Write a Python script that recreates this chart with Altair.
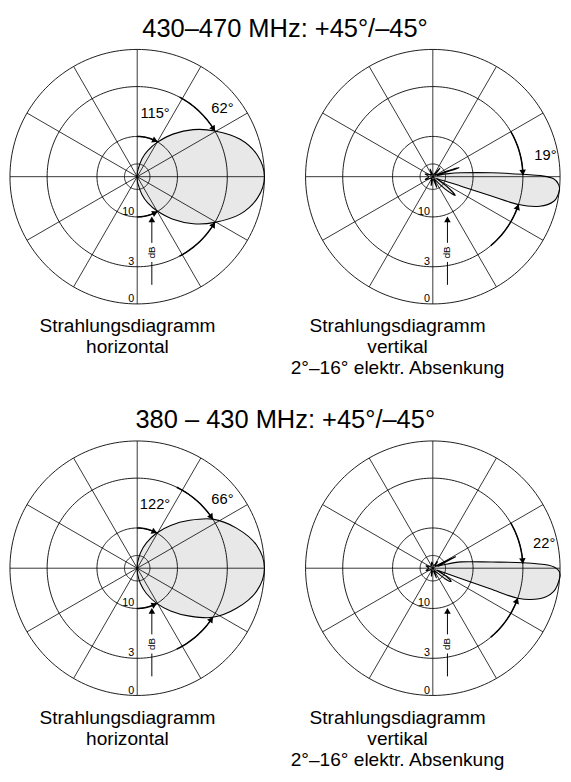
import altair as alt
import numpy as np
import pandas as pd

FONT = "Liberation Sans"
PANEL = 260          # plot size of one polar diagram (px)
LOBE_FILL = "#e8e8e8"

# ---------------- data ----------------
grid_db = [0, 3, 10, 20]          # circles of the polar grid (dB)
axis_label_db = [0, 3, 10]        # labelled circles
spoke_deg = [0, 30, 60, 90, 120, 150, 180, 210, 240, 270, 300, 330]

# horizontal pattern 430-470 MHz (angle deg CCW from boresight, attenuation dB)
h1_deg = [-90, -85, -75, -68, -60, -50, -40, -30.5, -20, -10, 0,
          10, 20, 30.5, 40, 50, 60, 68, 75, 85, 90]
h1_db = [40, 26, 16.7, 13.1, 10.2, 7.2, 4.8, 3.0, 1.3, 0.35, 0,
         0.35, 1.3, 3.0, 4.8, 7.2, 10.2, 13.1, 16.7, 26, 40]

# horizontal pattern 380-430 MHz
h2_deg = [-90, -85, -78, -70, -61, -52, -43, -33, -22, -11, 0,
          11, 22, 33, 43, 52, 61, 70, 78, 85, 90]
h2_db = [40, 25.8, 18.1, 13.5, 10, 7.4, 5.2, 3.0, 1.5, 0.4, 0,
         0.4, 1.5, 3.0, 5.2, 7.4, 10, 13.5, 18.1, 25.8, 40]

# vertical pattern 430-470 MHz (electrical downtilt)
v1_deg = [-180, -160, -140, -115, -100, -85, -70, -58, -51, -45, -40, -35, -29,
          -24, -19.5, -18.6, -18.3, -18, -15.5, -11.5, -6.5, -3.5, -1, 0.3, 1.5,
          3.8, 7.6, 12, 15, 19, 23, 30, 44, 50, 56, 80, 100, 110, 120, 140, 160]
v1_db = [30, 24, 34, 32, 23, 34, 21, 32, 28, 17, 12.8, 17, 28,
         26, 20, 12.4, 6.4, 3.0, 1.2, 0.26, 0, 0.09, 0.45, 1.2, 3.0,
         6.7, 12.8, 20, 28, 13.3, 22, 32, 30, 21, 30, 34, 33, 24, 33, 32, 24]

# vertical pattern 380-430 MHz
v2_deg = [-180, -160, -140, -115, -100, -85, -70, -58, -48, -41, -36, -31, -26,
          -22, -20.8, -20.3, -19.8, -19.5, -16, -11, -4.4, -1, 1.5, 3.5,
          6, 12.6, 18, 22, 27, 32, 40, 55, 70, 100, 130, 160]
v2_db = [30, 25, 34, 33, 24, 34, 22, 32, 28, 18, 15, 18, 28,
         24, 20, 12.4, 6.4, 3.0, 1.2, 0.3, 0, 0.1, 0.8, 3.0,
         6.7, 12.8, 22, 26, 14, 24, 32, 24, 33, 26, 33, 25]

# beamwidth arrows: (level dB, arc start deg, arc end deg = arrow tip)
h1_arrows = [(3, 62, 30.5), (3, -62, -30.5), (10, 90, 60), (10, -90, -60)]
h2_arrows = [(3, 64, 33), (3, -64, -33), (10, 90, 61), (10, -90, -61)]
v1_arrows = [(3, 30, 1), (3, -50, -18)]
v2_arrows = [(3, 30, 3), (3, -50, -19.5)]

# beamwidth labels: (text, x, y) in units of the outer radius
h1_notes = [("115°", 0.14, 0.50), ("62°", 0.67, 0.54)]
h2_notes = [("122°", 0.14, 0.50), ("66°", 0.67, 0.54)]
v1_notes = [("19°", 0.885, 0.17)]
v2_notes = [("22°", 0.875, 0.20)]

titles = ["430–470 MHz: +45°/–45°", "380 – 430 MHz: +45°/–45°"]
cap_h = ["Strahlungsdiagramm", "horizontal"]
cap_v = ["Strahlungsdiagramm", "vertikal", "2°–16° elektr. Absenkung"]

# ---------------- helpers ----------------
SC = alt.Scale(domain=[-1, 1], nice=False, zero=False)
X = alt.X("px:Q", scale=SC, axis=None)
Y = alt.Y("py:Q", scale=SC, axis=None)


def polar(df):
    return (alt.Chart(df)
            .transform_calculate(amp="pow(10, -datum.db / 20)")
            .transform_calculate(px="datum.amp * cos(datum.deg * PI / 180)")
            .transform_calculate(py="datum.amp * sin(datum.deg * PI / 180)"))


def panel(deg, db, arrows, notes, caption, cap_dx):
    pat = pd.DataFrame({"deg": deg, "db": db, "i": range(len(deg))})

    fill = polar(pat).mark_line(interpolate="cardinal-closed", fill=LOBE_FILL,
                                strokeOpacity=0).encode(x=X, y=Y, order="i:Q")
    outline = polar(pat).mark_line(interpolate="cardinal-closed", color="black",
                                   strokeWidth=1.1).encode(x=X, y=Y, order="i:Q")

    ring_t = np.arange(0, 361, 2)
    rings = pd.DataFrame([{"lvl": l, "db": l, "deg": float(t)} for l in grid_db for t in ring_t])
    grid = polar(rings).mark_line(color="black", strokeWidth=0.9).encode(
        x=X, y=Y, detail="lvl:N", order="deg:Q")

    sp = pd.DataFrame({"deg": spoke_deg, "db": 0})
    spokes = polar(sp).transform_calculate(o="0").mark_rule(
        color="black", strokeWidth=0.8).encode(
        x=alt.X("o:Q", scale=SC, axis=None), y=alt.Y("o:Q", scale=SC, axis=None),
        x2="px:Q", y2="py:Q")

    arcs, heads = [], []
    for k, (lvl, a0, a1) in enumerate(arrows):
        for t in np.linspace(a0, a1, 30):
            arcs.append({"id": k, "db": lvl, "deg": float(t)})
        d = 1 if a1 > a0 else -1
        amp = 10 ** (-lvl / 20)
        off = np.degrees(3.5 / (amp * PANEL / 2))
        pos = a1 - d * off
        rot = (-pos) % 360 if d > 0 else (180 - pos) % 360
        heads.append({"db": lvl, "deg": pos, "rot": rot})
    arc_l = polar(pd.DataFrame(arcs)).mark_line(color="black", strokeWidth=1.5).encode(
        x=X, y=Y, detail="id:N", order="deg:Q")
    head_l = polar(pd.DataFrame(heads)).mark_point(
        shape="triangle", filled=True, color="black", size=45, opacity=1).encode(
        x=X, y=Y, angle=alt.Angle("rot:Q", scale=None))

    lab = pd.DataFrame({"db": axis_label_db, "t": [str(v) for v in axis_label_db]})
    lab_l = (alt.Chart(lab)
             .transform_calculate(py="-pow(10, -datum.db / 20)", px="0")
             .mark_text(align="right", baseline="alphabetic", dx=-3, dy=-2,
                        fontSize=11, font=FONT, color="black")
             .encode(x=X, y=Y, text="t:N"))

    # dB arrow along the vertical axis
    amp10 = 10 ** (-10 / 20)
    dbx = 0.115
    seg = pd.DataFrame({"px": [dbx, dbx], "py": [-0.85, -0.52],
                        "px2": [dbx, dbx], "py2": [-0.67, -amp10 - 0.03]})
    seg_l = alt.Chart(seg).mark_rule(color="black", strokeWidth=1).encode(
        x=X, y=Y, x2="px2:Q", y2="py2:Q")
    dbhead = alt.Chart(pd.DataFrame({"px": [dbx], "py": [-amp10 - 0.027]})).mark_point(
        shape="triangle", filled=True, color="black", size=45, opacity=1).encode(x=X, y=Y)
    dbtxt = alt.Chart(pd.DataFrame({"px": [dbx], "py": [-0.595], "t": ["dB"]})).mark_text(
        angle=270, fontSize=10, font=FONT, color="black", baseline="middle", align="center"
    ).encode(x=X, y=Y, text="t:N")

    nt = pd.DataFrame(notes, columns=["t", "px", "py"])
    note_l = alt.Chart(nt).mark_text(fontSize=15, font=FONT, color="black",
                                     baseline="middle", align="center").encode(
        x=X, y=Y, text="t:N")

    return alt.layer(fill, grid, spokes, outline, arc_l, head_l, lab_l,
                     seg_l, dbhead, dbtxt, note_l).properties(
        width=PANEL, height=PANEL,
        title=alt.TitleParams(text=caption, orient="bottom", anchor="middle",
                              fontSize=19.5, lineHeight=21.5, font=FONT,
                              fontWeight="normal", color="black", dx=cap_dx, offset=12))


def row(title, left, right):
    return alt.hconcat(left, right, spacing=42, bounds="flush").properties(
        title=alt.TitleParams(text=title, fontSize=26, font=FONT, fontWeight="normal",
                              color="black", anchor="middle", offset=6))


row1 = row(titles[0],
           panel(h1_deg, h1_db, h1_arrows, h1_notes, cap_h, -10),
           panel(v1_deg, v1_db, v1_arrows, v1_notes, cap_v, -36))
row2 = row(titles[1],
           panel(h2_deg, h2_db, h2_arrows, h2_notes, cap_h, -10),
           panel(v2_deg, v2_db, v2_arrows, v2_notes, cap_v, -36))

chart = alt.vconcat(row1, row2, spacing=30).properties(
    padding={"left": 0, "top": 0, "right": 0, "bottom": 0}
).configure_view(stroke=None)

chart.save("out.html", embed_options={"renderer": "svg", "actions": False})
